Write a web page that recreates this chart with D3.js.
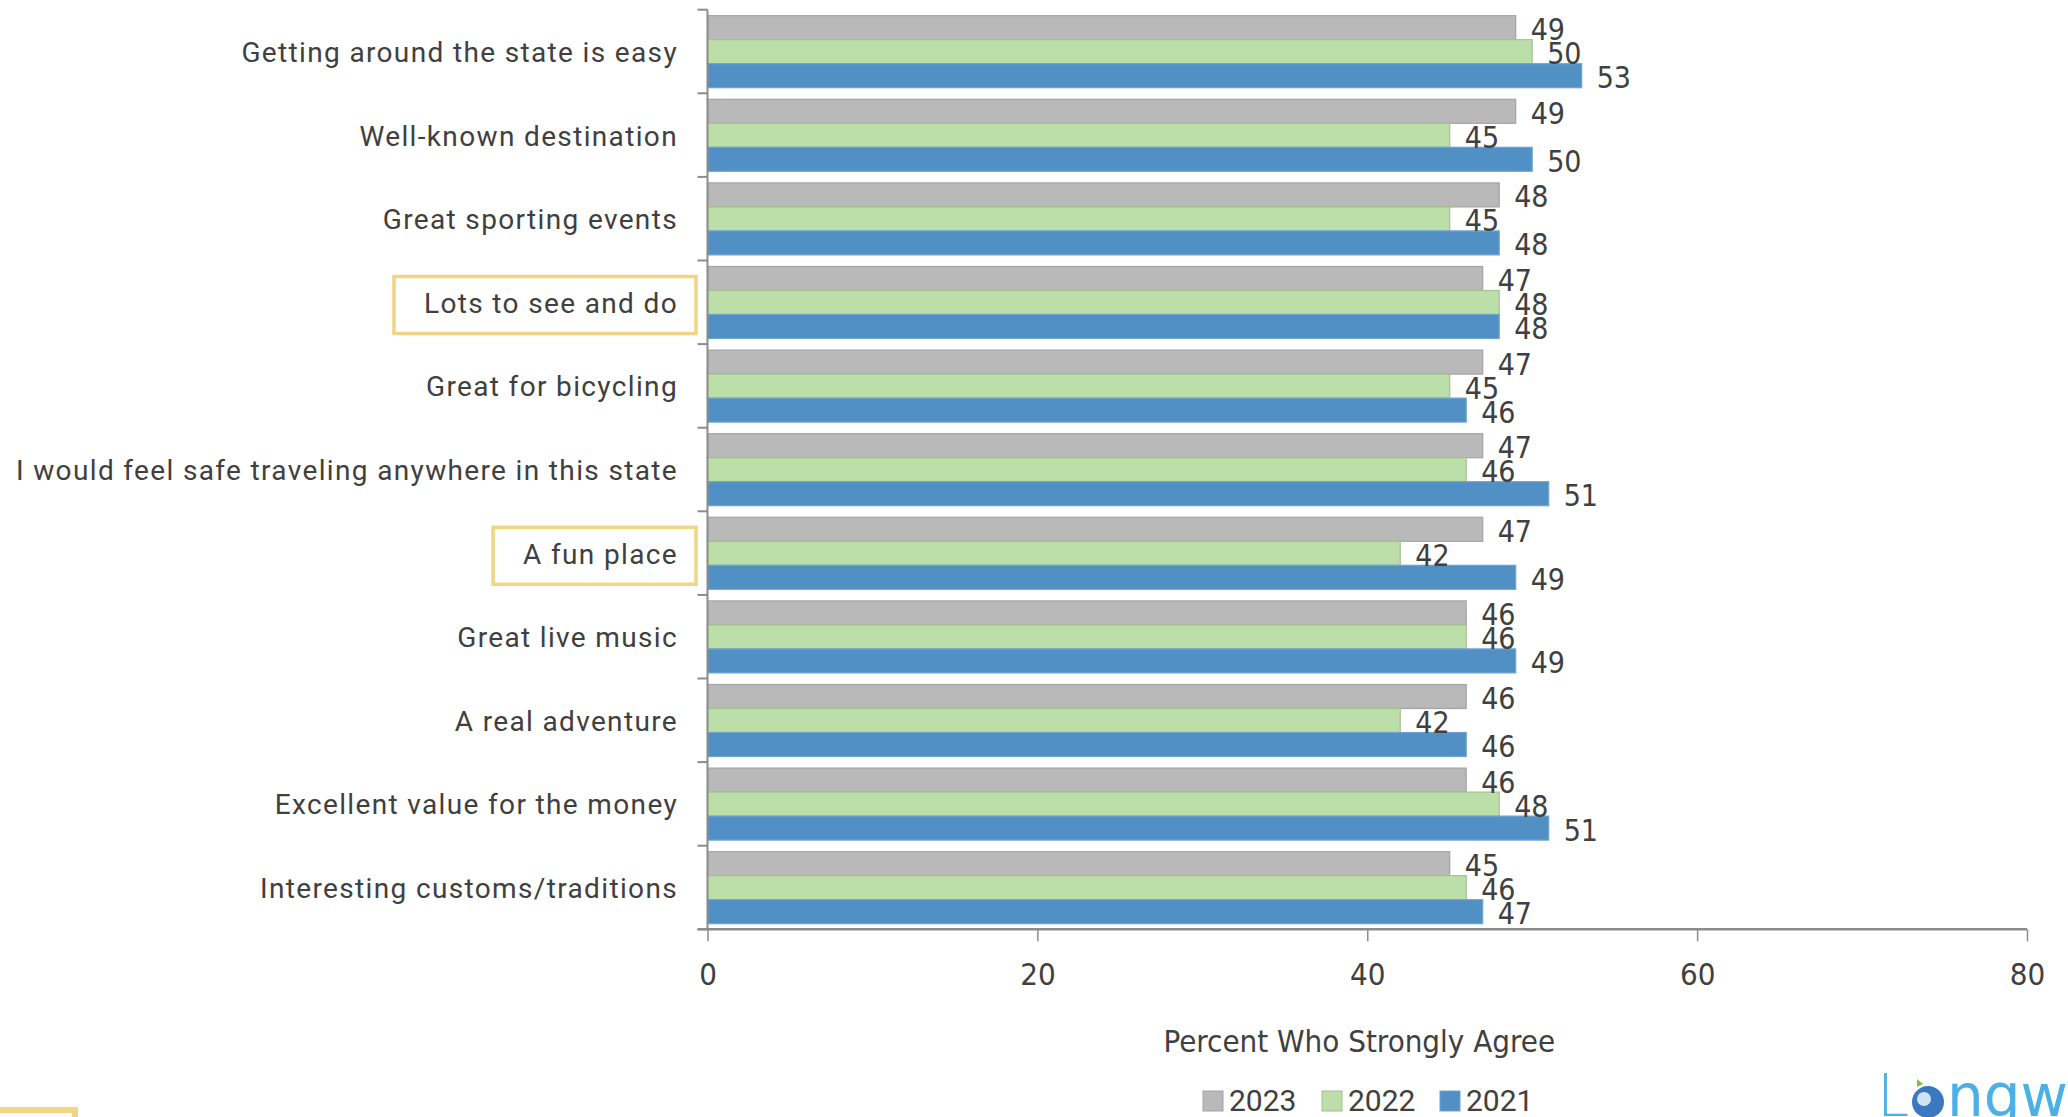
<!DOCTYPE html>
<html>
<head>
<meta charset="utf-8">
<script src="https://cdn.jsdelivr.net/npm/d3@7"></script>
<style>
  html, body { margin: 0; padding: 0; background: #ffffff; overflow: hidden; }
  svg { display: block; }
</style>
</head>
<body>
<svg id="chart" width="2068" height="1117"></svg>
<script>
// Destination image attributes, percent who strongly agree, by survey year
const categories = [
  "Getting around the state is easy",
  "Well-known destination",
  "Great sporting events",
  "Lots to see and do",
  "Great for bicycling",
  "I would feel safe traveling anywhere in this state",
  "A fun place",
  "Great live music",
  "A real adventure",
  "Excellent value for the money",
  "Interesting customs/traditions"
];
const years = ["2023", "2022", "2021"];
const values2023 = [49, 49, 48, 47, 47, 47, 47, 46, 46, 46, 45];
const values2022 = [50, 45, 45, 48, 45, 46, 42, 46, 42, 48, 46];
const values2021 = [53, 50, 48, 48, 46, 51, 49, 49, 46, 51, 47];
const xTicks = [0, 20, 40, 60, 80];
const highlighted = ["Lots to see and do", "A fun place"];
const axisTitle = "Percent Who Strongly Agree";

const seriesValues = { "2023": values2023, "2022": values2022, "2021": values2021 };
const colors = { "2023": "#b9b9b9", "2022": "#bcdea8", "2021": "#5190c4" };
const strokes = { "2023": "#a3a3a3", "2022": "#a2c290", "2021": "#6ea3d0" };

const svg = d3.select("#chart");
const x0 = 707.5, x1 = 2027, yBottom = 929.3, step = 83.6;
const yTop = yBottom - step * categories.length;

const x = d3.scaleLinear().domain([0, 80]).range([x0, x1]);
const y = d3.scaleBand().domain(categories).range([yTop, yBottom]).padding(0);
const yInner = d3.scaleBand().domain(years).range([6, 78]).padding(0);

const rows = categories.map((c, i) => ({ c, vals: years.map(yr => ({ yr, v: seriesValues[yr][i] })) }));

// bars
const groups = svg.append("g").selectAll("g").data(rows).join("g")
  .attr("transform", d => `translate(0,${y(d.c)})`);
groups.selectAll("rect").data(d => d.vals).join("rect")
  .attr("x", x(0))
  .attr("y", d => yInner(d.yr))
  .attr("width", d => x(d.v) - x(0))
  .attr("height", yInner.bandwidth())
  .attr("fill", d => colors[d.yr])
  .attr("stroke", d => strokes[d.yr])
  .attr("stroke-width", 1.2);

// value labels
const labelFont = "'Liberation Sans Narrow', 'DejaVu Sans Condensed', sans-serif";
const labels = svg.append("g").selectAll("g").data(rows).join("g")
  .attr("transform", d => `translate(0,${y(d.c)})`);
labels.selectAll("text").data(d => d.vals).join("text")
  .attr("x", d => x(d.v) + 15)
  .attr("y", d => yInner(d.yr) + yInner.bandwidth() / 2 + 4)
  .attr("dominant-baseline", "middle")
  .attr("font-family", labelFont)
  .attr("font-size", 30)
  .attr("fill", "#404040")
  .text(d => d.v);

// y axis
const yAxis = svg.append("g").attr("transform", `translate(${x0},0)`);
yAxis.append("line").attr("x1", 0).attr("x2", 0).attr("y1", yTop).attr("y2", yBottom)
  .attr("stroke", "#8c8c8c").attr("stroke-width", 2);
yAxis.selectAll("line.tick").data(d3.range(categories.length + 1)).join("line")
  .attr("class", "tick")
  .attr("x1", -10).attr("x2", 0)
  .attr("y1", i => yTop + i * step).attr("y2", i => yTop + i * step)
  .attr("stroke", "#8c8c8c").attr("stroke-width", 2);

// category labels
const catFont = "Roboto, 'Noto Sans', sans-serif";
const catText = svg.append("g").selectAll("text").data(categories).join("text")
  .attr("x", 678)
  .attr("y", d => y(d) + 45)
  .attr("text-anchor", "end")
  .attr("dominant-baseline", "middle")
  .attr("font-family", catFont)
  .attr("font-size", 28)
  .attr("letter-spacing", 1.35)
  .attr("fill", "#404040")
  .text(d => d);

// highlight boxes around selected categories
catText.filter(d => highlighted.includes(d)).each(function(d) {
  const w = this.getComputedTextLength();
  const cy = y(d) + 44;
  const left = 678 - w - 30;
  svg.append("rect")
    .attr("x", left)
    .attr("y", cy - 28)
    .attr("width", 696 - left)
    .attr("height", 57)
    .attr("fill", "none")
    .attr("stroke", "#f0d584")
    .attr("stroke-width", 3.5);
});

// x axis
const xAxis = d3.axisBottom(x).tickValues(xTicks).tickSize(12).tickPadding(22).tickSizeOuter(0);
const xg = svg.append("g").attr("transform", `translate(0,${yBottom})`).call(xAxis);
xg.select(".domain").attr("stroke", "#8c8c8c").attr("stroke-width", 2.5)
  .attr("d", `M${x0 - 10},0H${x1}`);
xg.selectAll(".tick line").attr("stroke", "#8c8c8c").attr("stroke-width", 1.5);
xg.selectAll(".tick text")
  .attr("font-family", labelFont)
  .attr("font-size", 31)
  .attr("fill", "#404040");

// axis title
svg.append("text")
  .attr("x", (x0 + x1) / 2 - 8)
  .attr("y", 1043)
  .attr("text-anchor", "middle")
  .attr("dominant-baseline", "middle")
  .attr("font-family", labelFont)
  .attr("font-size", 31)
  .attr("fill", "#404040")
  .text(axisTitle);

// legend
const legendX = [1203, 1322, 1440];
const legend = svg.append("g").selectAll("g").data(years).join("g")
  .attr("transform", (d, i) => `translate(${legendX[i]},1101)`);
legend.append("rect")
  .attr("x", 0).attr("y", -10).attr("width", 20).attr("height", 20)
  .attr("fill", d => colors[d]).attr("stroke", d => strokes[d]).attr("stroke-width", 1);
legend.append("text")
  .attr("x", 26).attr("y", 2)
  .attr("dominant-baseline", "middle")
  .attr("font-family", catFont)
  .attr("font-size", 30)
  .attr("fill", "#404040")
  .text(d => d);

// partial highlight frame at lower left
svg.append("rect")
  .attr("x", -20).attr("y", 1110).attr("width", 95).attr("height", 60)
  .attr("fill", "none").attr("stroke", "#f0d584").attr("stroke-width", 6);

// logo mark, lower right (runs off the edge)
const logo = svg.append("g").attr("transform", "translate(1877,1116)");
logo.append("text").attr("x", 0).attr("y", 0)
  .attr("font-family", "'DejaVu Sans', sans-serif").attr("font-weight", 300)
  .attr("font-size", 58).attr("fill", "#4ab0e6").text("L");
logo.append("circle").attr("cx", 51).attr("cy", -14).attr("r", 16)
  .attr("fill", "#3b78c0");
logo.append("circle").attr("cx", 47).attr("cy", -17).attr("r", 7)
  .attr("fill", "#cfe3f5");
logo.append("path").attr("d", "M40,-37 l6,5 l-6,3 z").attr("fill", "#7cc242");
logo.append("text").attr("x", 70).attr("y", 0)
  .attr("font-family", "'DejaVu Sans', sans-serif")
  .attr("font-size", 58).attr("fill", "#4ab0e6").text("ngwoods");
</script>
</body>
</html>
